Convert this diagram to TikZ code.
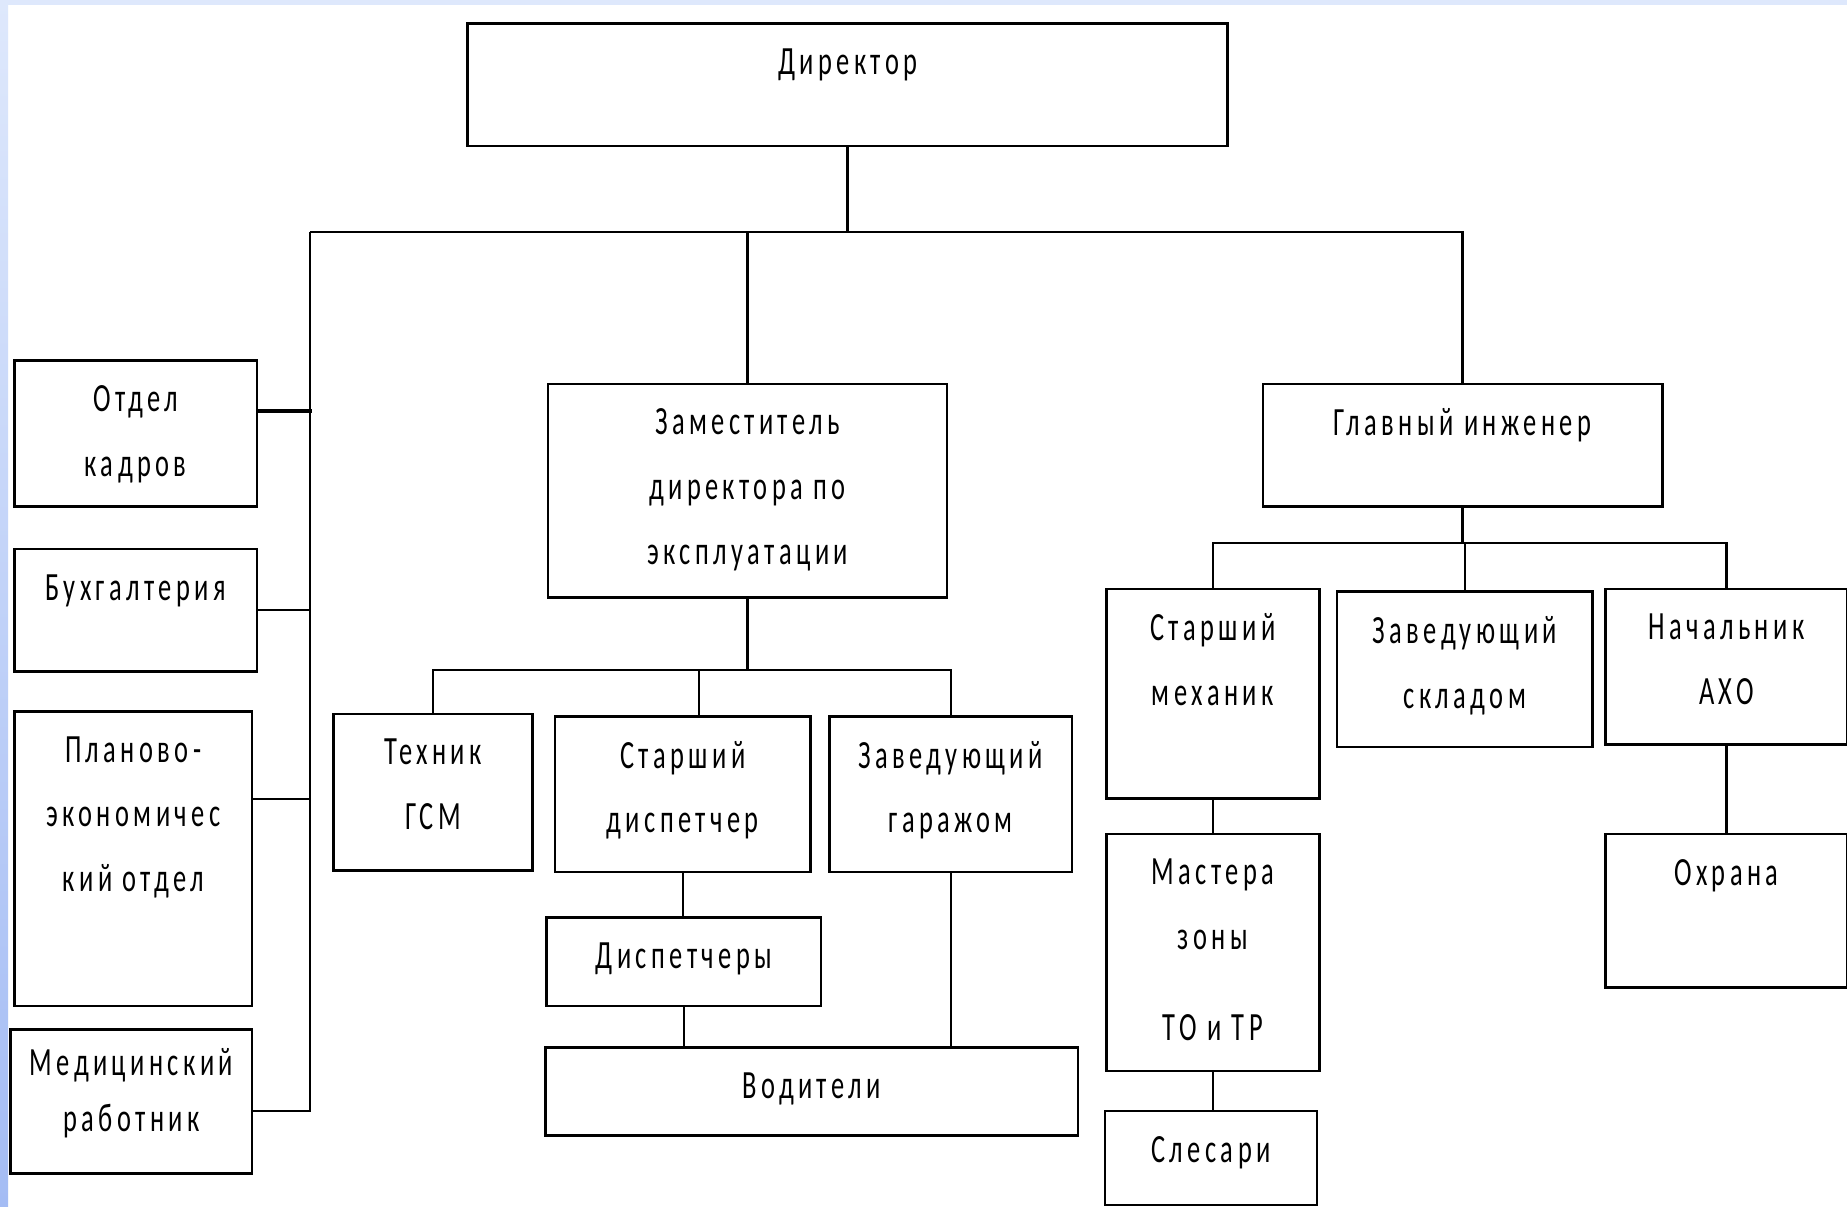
\documentclass[tikz,border=0pt]{standalone}
\usepackage{fontspec}
\setmainfont{Carlito}[LetterSpace=11,FakeStretch=0.66]
\usetikzlibrary{positioning}
\definecolor{edgetop}{HTML}{DEE8FC}
\definecolor{edgebot}{HTML}{A4BCF4}

\tikzset{
  unit/.style={draw=black, line width=2.2pt, rectangle, anchor=north west, inner sep=0pt},
  lbl/.style={inner sep=0pt, align=center, font=\fontsize{34pt}{55pt}\selectfont,
    execute at begin node=\vphantom{Й}},
  multi/.style={yshift=-5pt},
  link/.style={draw=black, line width=2pt}
}

\begin{document}
\begin{tikzpicture}[x=1pt, y=-1pt]
  \useasboundingbox (0,0) rectangle (1568,1024);
  \fill[white] (0,0) rectangle (1568,1024);
  \fill[edgetop] (0,0) rectangle (1568,4);
  \shade[top color=edgetop, bottom color=edgebot] (0,0) rectangle (7,1024);

  % boxes
  \node[unit, minimum width=645pt, minimum height=104pt] (dir) at (396,19) {};
  \node[unit, minimum width=206pt, minimum height=124pt] (kadry) at (11,305) {};
  \node[unit, minimum width=206pt, minimum height=104pt] (buh) at (11,465) {};
  \node[unit, minimum width=202pt, minimum height=250pt] (plan) at (11,603) {};
  \node[unit, minimum width=205pt, minimum height=122pt] (med) at (8,873) {};
  \node[unit, minimum width=339pt, minimum height=181pt] (zam) at (464,325) {};
  \node[unit, minimum width=169pt, minimum height=133pt] (tech) at (282,605) {};
  \node[unit, minimum width=217pt, minimum height=132pt] (sdisp) at (470,607) {};
  \node[unit, minimum width=206pt, minimum height=132pt] (garage) at (703,607) {};
  \node[unit, minimum width=233pt, minimum height=75pt] (disp) at (463,778) {};
  \node[unit, minimum width=452pt, minimum height=75pt] (drivers) at (462,888) {};
  \node[unit, minimum width=339pt, minimum height=104pt] (glav) at (1071,325) {};
  \node[unit, minimum width=181pt, minimum height=178pt] (smech) at (938,499) {};
  \node[unit, minimum width=217pt, minimum height=132pt] (sklad) at (1134,501) {};
  \node[unit, minimum width=205pt, minimum height=132pt] (aho) at (1362,499) {};
  \node[unit, minimum width=181pt, minimum height=201pt] (mast) at (938,707) {};
  \node[unit, minimum width=180pt, minimum height=80pt] (slesari) at (937,942) {};
  \node[unit, minimum width=205pt, minimum height=130pt] (ohrana) at (1362,707) {};

  % texts
  \node[lbl, below=17pt of dir.north] (dir-t) {Директор};
  \node[lbl, multi, below=17pt of kadry.north] (kadry-t) {Отдел\\кадров};
  \node[lbl, below=17pt of buh.north] (buh-t) {Бухгалтерия};
  \node[lbl, multi, below=17pt of plan.north] (plan-t) {Планово-\\экономичес\\кий отдел};
  \node[lbl, below=17pt of med.north] (med-t) {Медицинский\\[-8pt]работник};
  \node[lbl, multi, below=17pt of zam.north] (zam-t) {Заместитель\\директора по\\эксплуатации};
  \node[lbl, multi, below=17pt of tech.north] (tech-t) {Техник\\ГСМ};
  \node[lbl, multi, below=17pt of sdisp.north] (sdisp-t) {Старший\\диспетчер};
  \node[lbl, multi, below=17pt of garage.north] (garage-t) {Заведующий\\гаражом};
  \node[lbl, below=17pt of disp.north] (disp-t) {Диспетчеры};
  \node[lbl, below=17pt of drivers.north] (drivers-t) {Водители};
  \node[lbl, below=17pt of glav.north] (glav-t) {Главный инженер};
  \node[lbl, multi, below=17pt of smech.north] (smech-t) {Старший\\механик};
  \node[lbl, multi, below=17pt of sklad.north] (sklad-t) {Заведующий\\складом};
  \node[lbl, multi, below=17pt of aho.north] (aho-t) {Начальник\\АХО};
  \node[lbl, multi, below=17pt of mast.north] (mast-t) {Мастера\\зоны\\[22pt]ТО и ТР};
  \node[lbl, below=17pt of slesari.north] (slesari-t) {Слесари};
  \node[lbl, below=17pt of ohrana.north] (ohrana-t) {Охрана};

  % connectors
  \coordinate (busL) at (263,197);
  \coordinate (zbus) at (632,569);
  \coordinate (gbus) at (1240,461);

  \draw[link] (dir.south) -- (dir.south |- busL);
  \draw[link] (busL) -| (glav.north);
  \draw[link] (zam.north) -- (zam.north |- busL);

  \draw[link] ([yshift=-8pt]med.east) -| (busL);
  \draw[link] ([yshift=51pt]plan.east) -| (busL);
  \draw[link] (buh.east) -| (busL);
  \draw[link, line width=3.6pt] ([yshift=19pt]kadry.east) -- ++(46,0);

  \draw[link] (zam.south) -- (zam.south |- zbus);
  \draw[link] (tech.north) |- (zbus) -| (garage.north);
  \draw[link] ([xshift=14pt]sdisp.north) |- (zbus);
  \draw[link] (sdisp.south) -- (sdisp.south |- disp.north);
  \draw[link] (disp.south) -- (disp.south |- drivers.north);
  \draw[link] (garage.south) -- (garage.south |- drivers.north);

  \draw[link] (glav.south) -- (glav.south |- gbus);
  \draw[link] (smech.north) |- (gbus) -| (aho.north);
  \draw[link] (sklad.north) -- (sklad.north |- gbus);
  \draw[link] (smech.south) -- (mast.north);
  \draw[link] (mast.south) -- (mast.south |- slesari.north);
  \draw[link] (aho.south) -- (aho.south |- ohrana.north);
\end{tikzpicture}
\end{document}
